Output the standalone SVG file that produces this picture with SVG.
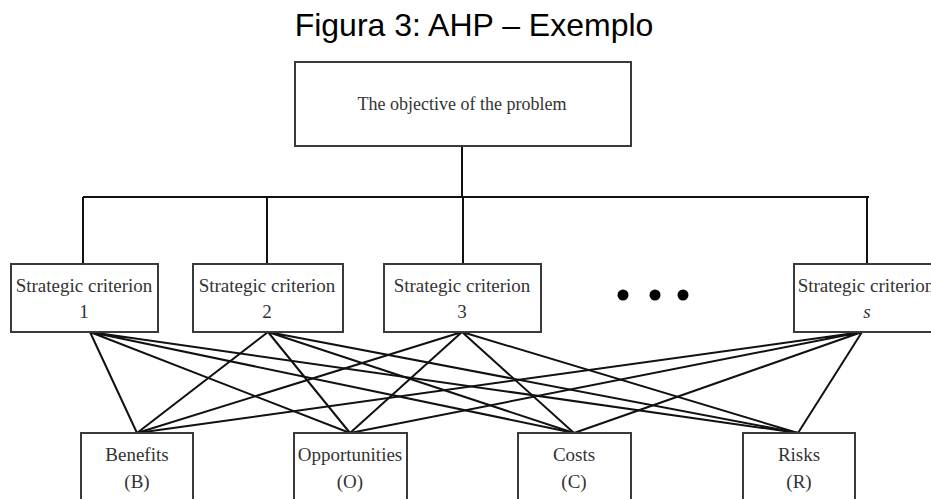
<svg xmlns="http://www.w3.org/2000/svg" width="931" height="499" viewBox="0 0 931 499">
<style>
.box{fill:#fff;stroke:#3a3a3a;stroke-width:2}
.t{font-family:"Liberation Serif","Times New Roman",serif;font-size:19px;fill:#333;text-anchor:middle}
.ttl{font-family:"Liberation Sans",Arial,sans-serif;font-size:32px;fill:#000;text-anchor:middle}
.ln{stroke:#111;stroke-width:2;fill:none}
</style>
<rect width="931" height="499" fill="#fff"/>
<text class="ttl" x="474" y="36">Figura 3: AHP – Exemplo</text>
<g id="connectors">
<path class="ln" d="M462 146V197M83 197H869M83 197V264M267 197V264M463 197V264M867 197V264"/>
<g id="links">
<path class="ln" d="M90 332L137 433M90 332L350 433M90 332L574 433M90 332L798 433"/>
<path class="ln" d="M268 332L137 433M268 332L350 433M268 332L574 433M268 332L798 433"/>
<path class="ln" d="M462 332L137 433M462 332L350 433M462 332L574 433M462 332L798 433"/>
<path class="ln" d="M862 332L137 433M862 332L350 433M862 332L574 433M862 332L798 433"/>
</g>
</g>
<g id="objective">
<rect class="box" x="295" y="62" width="336" height="84"/>
<text class="t" x="462" y="110" style="font-size:18px">The objective of the problem</text>
</g>
<g id="crit1">
<rect class="box" x="11" y="264" width="147" height="68"/>
<text class="t" x="84" y="292">Strategic criterion</text>
<text class="t" x="84" y="318">1</text>
</g>
<g id="crit2">
<rect class="box" x="193" y="264" width="150" height="68"/>
<text class="t" x="267" y="292">Strategic criterion</text>
<text class="t" x="267" y="318">2</text>
</g>
<g id="crit3">
<rect class="box" x="384" y="264" width="157" height="68"/>
<text class="t" x="462" y="292">Strategic criterion</text>
<text class="t" x="462" y="318">3</text>
</g>
<g id="ellipsis">
<circle cx="623" cy="295" r="5.5" fill="#000"/>
<circle cx="655" cy="295" r="5.5" fill="#000"/>
<circle cx="683" cy="295" r="5.5" fill="#000"/>
</g>
<g id="crits">
<rect class="box" x="794" y="264" width="152" height="68"/>
<text class="t" x="866" y="292">Strategic criterion</text>
<text class="t" x="867" y="318" font-style="italic">s</text>
</g>
<g id="benefits">
<rect class="box" x="81" y="433" width="112" height="80"/>
<text class="t" x="137" y="461">Benefits</text>
<text class="t" x="137" y="488">(B)</text>
</g>
<g id="opportunities">
<rect class="box" x="294" y="433" width="113" height="80"/>
<text class="t" x="350" y="461">Opportunities</text>
<text class="t" x="350" y="488">(O)</text>
</g>
<g id="costs">
<rect class="box" x="518" y="433" width="113" height="80"/>
<text class="t" x="574" y="461">Costs</text>
<text class="t" x="574" y="488">(C)</text>
</g>
<g id="risks">
<rect class="box" x="743" y="433" width="112" height="80"/>
<text class="t" x="799" y="461">Risks</text>
<text class="t" x="799" y="488">(R)</text>
</g>
</svg>
